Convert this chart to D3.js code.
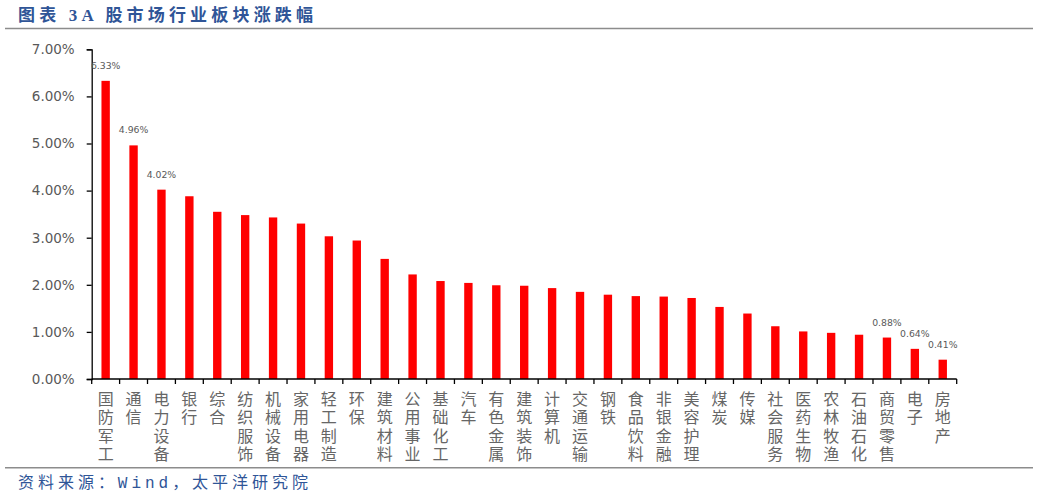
<!DOCTYPE html>
<html>
<head>
<meta charset="utf-8">
<script src="https://cdn.jsdelivr.net/npm/d3@7"></script>
<style>
  body { margin: 0; background: #fff; }
  svg { display: block; }
</style>
</head>
<body>
<div id="chart"></div>
<script>
const width = 1038;
const height = 498;

// industry names and their % change
const categories = ["国防军工", "通信", "电力设备", "银行", "综合", "纺织服饰", "机械设备", "家用电器",
    "轻工制造", "环保", "建筑材料", "公用事业", "基础化工", "汽车", "有色金属", "建筑装饰", "计算机",
    "交通运输", "钢铁", "食品饮料", "非银金融", "美容护理", "煤炭", "传媒", "社会服务", "医药生物",
    "农林牧渔", "石油石化", "商贸零售", "电子", "房地产"];
const values = [6.33, 4.96, 4.02, 3.88, 3.55, 3.48, 3.43, 3.30, 3.03, 2.94, 2.55, 2.22, 2.08, 2.04,
    1.99, 1.98, 1.93, 1.85, 1.79, 1.76, 1.75, 1.72, 1.53, 1.39, 1.12, 1.01, 0.98, 0.94, 0.88, 0.64, 0.41];
const labelled = ["国防军工", "通信", "电力设备", "商贸零售", "电子", "房地产"]; // only these carry a value label
const yTicks = [0, 1, 2, 3, 4, 5, 6, 7];

const titleText = "图表 3A 股市场行业板块涨跌幅";
const sourceText = "资料来源：Wind，太平洋研究院";

const data = categories.map((c, i) => ({ name: c, value: values[i] }));

const svg = d3.select("#chart").append("svg")
    .attr("width", width)
    .attr("height", height);

// title + rules
svg.append("text")
    .attr("x", 18)
    .attr("y", 21)
    .attr("textLength", 295)
    .attr("lengthAdjust", "spacing")
    .style("font-family", "'Liberation Serif', 'Noto Sans CJK SC', serif")
    .style("font-weight", "bold")
    .style("font-size", "17px")
    .style("fill", "#2f5597")
    .text(titleText);

svg.append("line")
    .attr("x1", 5).attr("x2", 1033)
    .attr("y1", 28.5).attr("y2", 28.5)
    .style("stroke", "#8c8c8c")
    .style("stroke-width", 1.5);

svg.append("line")
    .attr("x1", 5).attr("x2", 1033)
    .attr("y1", 467.7).attr("y2", 467.7)
    .style("stroke", "#8c8c8c")
    .style("stroke-width", 1.5);

svg.append("text")
    .attr("x", 18)
    .attr("y", 488)
    .attr("textLength", 290)
    .attr("lengthAdjust", "spacing")
    .style("font-family", "'Liberation Mono', 'Noto Sans CJK SC', monospace")
    .style("font-size", "16px")
    .style("fill", "#2f5597")
    .text(sourceText);

// scales
const x = d3.scaleBand()
    .domain(categories)
    .range([91.7, 956.7])
    .paddingInner(0.7)
    .paddingOuter(0.35);

const y = d3.scaleLinear()
    .domain([0, 7])
    .range([379, 49.3]);

// bars
svg.selectAll("rect.bar")
    .data(data)
    .enter()
    .append("rect")
    .attr("class", "bar")
    .attr("x", d => x(d.name))
    .attr("y", d => y(d.value))
    .attr("width", x.bandwidth())
    .attr("height", d => y(0) - y(d.value))
    .style("fill", "#ff0000");

// y axis
const yAxis = svg.append("g")
    .attr("transform", "translate(91.7,0)")
    .call(d3.axisLeft(y).tickValues(yTicks).tickSize(5).tickPadding(12)
        .tickFormat(d => d.toFixed(2) + "%"));
yAxis.select(".domain").style("stroke", "#000").style("stroke-width", 1.3);
yAxis.selectAll(".tick line").style("stroke", "#000").style("stroke-width", 1.3);
yAxis.selectAll(".tick text")
    .style("font-family", "'DejaVu Sans', sans-serif")
    .style("font-size", "13.5px")
    .style("fill", "#595959");

// x axis: ticks on the band edges
const step = x.step();
const edges = d3.range(categories.length + 1).map(i => 91.7 + i * step);
svg.append("line")
    .attr("x1", 91.7).attr("x2", 956.7)
    .attr("y1", y(0)).attr("y2", y(0))
    .style("stroke", "#000")
    .style("stroke-width", 1.5);
svg.selectAll("line.xtick")
    .data(edges)
    .enter()
    .append("line")
    .attr("class", "xtick")
    .attr("x1", d => d).attr("x2", d => d)
    .attr("y1", y(0)).attr("y2", y(0) + 5)
    .style("stroke", "#000")
    .style("stroke-width", 1.3);

// vertical category labels, one character per line
const catLabels = svg.selectAll("text.cat")
    .data(data)
    .enter()
    .append("text")
    .attr("class", "cat")
    .attr("text-anchor", "middle")
    .style("font-family", "'Noto Sans CJK SC', sans-serif")
    .style("font-size", "16px")
    .style("fill", "#666666");
catLabels.each(function (d) {
    const cx = x(d.name) + x.bandwidth() / 2;
    d3.select(this).selectAll("tspan")
        .data(Array.from(d.name))
        .enter()
        .append("tspan")
        .attr("x", cx)
        .attr("y", (c, i) => 405 + i * 18.3)
        .text(c => c);
});

// value labels, clipped at the y axis like the original
svg.append("clipPath")
    .attr("id", "plot-clip")
    .append("rect")
    .attr("x", 91).attr("y", 30)
    .attr("width", 900).attr("height", 360);

svg.append("g")
    .attr("clip-path", "url(#plot-clip)")
    .selectAll("text.val")
    .data(data.filter(d => labelled.includes(d.name)))
    .enter()
    .append("text")
    .attr("class", "val")
    .attr("x", d => x(d.name) + x.bandwidth() / 2)
    .attr("y", d => y(d.value) - 12)
    .attr("text-anchor", "middle")
    .style("font-family", "'DejaVu Sans', sans-serif")
    .style("font-size", "9.3px")
    .style("fill", "#595959")
    .text(d => d.value.toFixed(2) + "%");
</script>
</body>
</html>
